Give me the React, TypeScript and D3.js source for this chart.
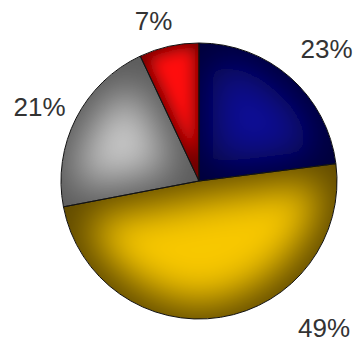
import React from "react";
import * as d3 from "d3";

const categories = ["A", "B", "C", "D"];
const values = [23, 49, 21, 7];
const labels = ["23%", "49%", "21%", "7%"];
const lightColors = ["#0a0a98", "#f8c800", "#cccccc", "#ff1010"];
const darkColors = ["#000038", "#5e4800", "#5a5a5a", "#700000"];
// label placement (layout): angle offset from slice mid-angle (deg) and radius
const labelAngleOffset = [2.5, -31.4, -1.9, -3.2];
const labelRadius = [184, 193, 176, 167];

const W = 355;
const H = 342;
const cx = 199;
const cy = 181;
const R = 138;

export default function App() {
  const pie = d3.pie<number>().sort(null).value((d) => d);
  const arcs = pie(values);
  const arcGen = d3.arc<d3.PieArcDatum<number>>().innerRadius(0).outerRadius(R);

  return (
    <svg
      width={W}
      height={H}
      style={{ position: "absolute", left: 0, top: 0, background: "#fff" }}
    >
      <defs>
        <filter id="pillow" x="-40%" y="-40%" width="180%" height="180%">
          <feMorphology operator="erode" radius="14" />
          <feGaussianBlur stdDeviation="20" />
        </filter>
        <filter id="pillowSmall" x="-40%" y="-40%" width="180%" height="180%">
          <feMorphology operator="erode" radius="4" />
          <feGaussianBlur stdDeviation="8" />
        </filter>
        {arcs.map((a, i) => (
          <clipPath id={`clip${i}`} key={i}>
            <path d={arcGen(a) || ""} />
          </clipPath>
        ))}
      </defs>
      <g transform={`translate(${cx},${cy})`}>
        {arcs.map((a, i) => (
          <g key={categories[i]} clipPath={`url(#clip${i})`}>
            <path d={arcGen(a) || ""} fill={darkColors[i]} />
            <path
              d={arcGen(a) || ""}
              fill={lightColors[i]}
              filter={values[i] < 10 ? "url(#pillowSmall)" : "url(#pillow)"}
            />
          </g>
        ))}
        {arcs.map((a, i) => (
          <path
            key={"o" + i}
            d={arcGen(a) || ""}
            fill="none"
            stroke="#111"
            strokeWidth={1}
          />
        ))}
      </g>
      <g>
        {arcs.map((a, i) => {
          const mid = (a.startAngle + a.endAngle) / 2 + (labelAngleOffset[i] * Math.PI) / 180;
          const x = cx + labelRadius[i] * Math.sin(mid);
          const y = cy - labelRadius[i] * Math.cos(mid);
          return (
            <text
              key={"t" + i}
              x={x}
              y={y}
              dy="0.36em"
              textAnchor="middle"
              fontFamily="'Liberation Sans', Arial, sans-serif"
              fontSize={26}
              fill="#333"
            >
              {labels[i]}
            </text>
          );
        })}
      </g>
    </svg>
  );
}
